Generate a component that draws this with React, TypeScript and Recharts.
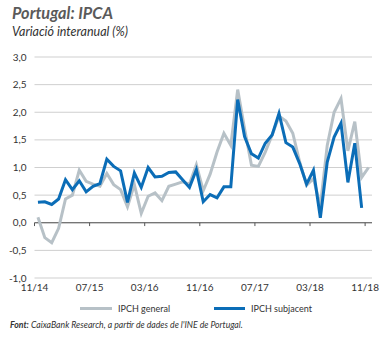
import React from "react";
import { LineChart, Line, XAxis, YAxis, CartesianGrid, ReferenceLine } from "recharts";

// Nov 2014 .. Nov 2018, one value per month
const general = [
  0.1, -0.27, -0.36, -0.1, 0.43, 0.5, 0.95, 0.75, 0.7, 0.66, 0.89, 0.69,
  0.6, 0.29, 0.69, 0.17, 0.48, 0.54, 0.4, 0.66, 0.7, 0.74, 0.7, 1.05,
  0.58, 0.88, 1.28, 1.62, 1.4, 2.41, 1.7, 1.04, 1.02, 1.28, 1.59, 1.93,
  1.84, 1.62, 1.1, 0.68, 0.8, 0.3, 1.4, 2.0, 2.25, 1.3, 1.83, 0.82, 1.0,
];
// Nov 2014 .. Oct 2018
const subjacent = [
  0.37, 0.38, 0.33, 0.43, 0.78, 0.6, 0.76, 0.56, 0.66, 0.71, 1.15, 1.02,
  0.94, 0.37, 0.9, 0.64, 1.0, 0.83, 0.84, 0.91, 0.92, 0.78, 0.64, 0.96,
  0.38, 0.51, 0.45, 0.65, 0.65, 2.23, 1.56, 1.25, 1.17, 1.44, 1.59, 1.98,
  1.45, 1.37, 1.07, 0.7, 0.95, 0.09, 1.1, 1.55, 1.8, 0.73, 1.44, 0.27,
];
const xTicks = [0, 8, 16, 24, 32, 40, 48];
const xLabels = ["11/14", "07/15", "03/16", "11/16", "07/17", "03/18", "11/18"];
const yTicks = [-1, -0.5, 0, 0.5, 1, 1.5, 2, 2.5, 3];

const GREY = "#b7c1c7";
const BLUE = "#0b6db7";
const FONT = "Lato, 'Open Sans', sans-serif";

const data = general.map((g, i) => ({
  x: i + 0.5,
  general: g,
  subjacent: i < subjacent.length ? subjacent[i] : null,
}));

export default function App() {
  return (
    <div
      style={{
        position: "absolute",
        left: 0,
        top: 0,
        width: 385,
        height: 338,
        background: "#fff",
        fontFamily: FONT,
        color: "#333",
      }}
    >
      <div style={{ position: "absolute", left: 12, top: 3, fontSize: 16.3, fontWeight: 700, fontStyle: "italic", color: "#5a5a5a" }}>
        Portugal: IPCA
      </div>
      <div style={{ position: "absolute", left: 12, top: 24, fontSize: 12.5, fontStyle: "italic", color: "#333" }}>
        Variació interanual (%)
      </div>
      <div style={{ position: "absolute", left: 0, top: 0 }}>
        <LineChart width={385} height={338} data={data} margin={{ top: 57, right: 13, left: 0, bottom: 40 }}>
          <CartesianGrid horizontal vertical={false} stroke="#cfcfcf" strokeWidth={1} />
          <XAxis
            type="number"
            dataKey="x"
            domain={[0, 49]}
            ticks={xTicks}
            tickFormatter={(v: number) => xLabels[xTicks.indexOf(v)]}
            axisLine={false}
            tickLine={false}
            tickSize={4}
            height={20}
            tick={{ fill: "#333", fontSize: 10, fontFamily: FONT }}
            interval={0}
          />
          <YAxis
            domain={[-1, 3]}
            ticks={yTicks}
            width={34.5}
            axisLine={false}
            tickLine={false}
            tickFormatter={(v: number) => v.toFixed(1).replace(".", ",")}
            tick={{ fill: "#333", fontSize: 10, fontFamily: FONT }}
            interval={0}
          />
          <ReferenceLine y={0} stroke="#555" strokeWidth={1} />
          {xTicks.map((t) => (
            <ReferenceLine
              key={t}
              segment={[{ x: t, y: 0 }, { x: t, y: -0.06 }]}
              stroke="#555"
              strokeWidth={1}
            />
          ))}
          <Line type="linear" dataKey="general" stroke={GREY} strokeWidth={3} dot={false} isAnimationActive={false} />
          <Line type="linear" dataKey="subjacent" stroke={BLUE} strokeWidth={3} dot={false} isAnimationActive={false} />
        </LineChart>
      </div>
      <div style={{ position: "absolute", left: 80, top: 303, fontSize: 9, display: "flex", alignItems: "center" }}>
        <span style={{ display: "inline-block", width: 32, height: 3, background: GREY, marginRight: 6 }} />
        <span>IPCH general</span>
      </div>
      <div style={{ position: "absolute", left: 214, top: 303, fontSize: 9, display: "flex", alignItems: "center" }}>
        <span style={{ display: "inline-block", width: 31, height: 3, background: BLUE, marginRight: 6 }} />
        <span>IPCH subjacent</span>
      </div>
      <div style={{ position: "absolute", left: 10, top: 319, fontSize: 8.7, fontStyle: "italic", color: "#333" }}>
        <b>Font:</b> CaixaBank Research, a partir de dades de l'INE de Portugal.
      </div>
    </div>
  );
}
